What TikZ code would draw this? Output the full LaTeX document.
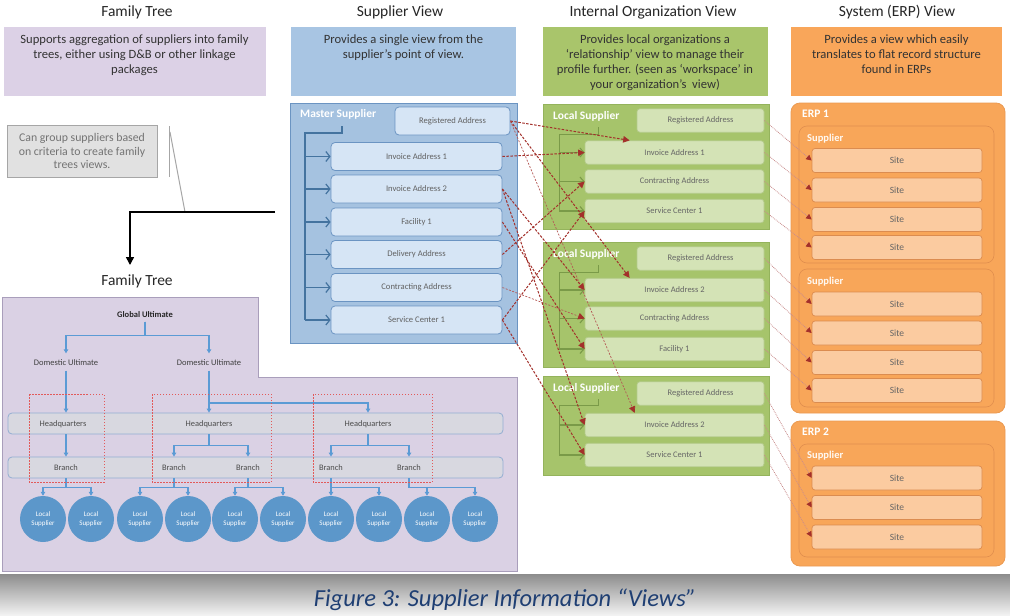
\documentclass[tikz,border=0pt]{standalone}
\usepackage{fontspec}
\setmainfont{Carlito}
\usetikzlibrary{arrows.meta}
\definecolor{purpD}{HTML}{DCD1E6}
\definecolor{purpA}{HTML}{DAD1E4}
\definecolor{purpB}{HTML}{A99EBB}
\definecolor{blueD}{HTML}{A8C5E3}
\definecolor{msFill}{HTML}{A5C2E0}
\definecolor{msLine}{HTML}{6B94C2}
\definecolor{msIn}{HTML}{D6E5F5}
\definecolor{msTree}{HTML}{44739F}
\definecolor{greenD}{HTML}{A9C56B}
\definecolor{lsFill}{HTML}{A6C46B}
\definecolor{lsLine}{HTML}{94B35C}
\definecolor{lsIn}{HTML}{D4E3B6}
\definecolor{lsInLine}{HTML}{B4CB8B}
\definecolor{lsTree}{HTML}{7A9A48}
\definecolor{orangeD}{HTML}{F9A65A}
\definecolor{erpFill}{HTML}{F8A659}
\definecolor{erpLine}{HTML}{EB9A52}
\definecolor{grpLine}{HTML}{E08E4E}
\definecolor{siteFill}{HTML}{FBCBA0}
\definecolor{siteLine}{HTML}{DB8C50}
\definecolor{noteFill}{HTML}{E1E1E1}
\definecolor{noteLine}{HTML}{A6A6A6}
\definecolor{treeBlue}{HTML}{5B9BD5}
\definecolor{circFill}{HTML}{5C97CA}
\definecolor{barFill}{HTML}{D8D8E0}
\definecolor{barLine}{HTML}{93AED2}
\definecolor{redBox}{HTML}{E25A5A}
\definecolor{conRed}{HTML}{A3302B}
\definecolor{erpCon}{HTML}{C98C8C}
\definecolor{capBlue}{HTML}{1F3F73}
\tikzset{
 ttl/.style={font=\fontsize{15.5}{18}\selectfont, text=black!85, inner sep=0pt},
 descbox/.style={draw=none, minimum width=#1, minimum height=69pt, inner sep=0pt},
 desctext/.style={font=\fontsize{12.6}{15}\selectfont, align=center, text=black!80, anchor=north, inner sep=0pt},
 hdr/.style={font=\bfseries\fontsize{11.5}{13}\selectfont, text=white, anchor=west, inner sep=0pt},
 hdrs/.style={font=\bfseries\fontsize{10.5}{12}\selectfont, text=white!95!orange, anchor=west, inner sep=0pt},
 mframe/.style={draw=msLine, fill=msFill, line width=0.8pt, minimum width=227pt, minimum height=240pt, inner sep=0pt},
 sbox/.style={draw=msLine, fill=msIn, line width=0.8pt, rounded corners=4pt, minimum width=171pt, minimum height=28pt, inner sep=0pt, font=\fontsize{8.6}{10}\selectfont, text=black!62},
 lsframe/.style={draw=lsLine, fill=lsFill, line width=0.8pt, minimum width=226pt, inner sep=0pt},
 lsbox/.style={draw=lsInLine, fill=lsIn, line width=0.7pt, rounded corners=3pt, minimum width=179pt, minimum height=23.5pt, inner sep=0pt, font=\fontsize{8.5}{10}\selectfont, text=black!60},
 erpframe/.style={draw=erpLine, fill=erpFill, line width=0.8pt, rounded corners=9pt, minimum width=214pt, inner sep=0pt},
 grp/.style={draw=grpLine, fill=erpFill, line width=0.6pt, rounded corners=8pt, minimum width=195pt, inner sep=0pt},
 site/.style={draw=siteLine, fill=siteFill, line width=0.7pt, rounded corners=3pt, minimum width=170pt, minimum height=24pt, inner sep=0pt, font=\fontsize{9.5}{11}\selectfont, text=black!60},
 tlabel/.style={font=\fontsize{8.5}{10}\selectfont, text=black!75, inner sep=1.5pt},
 bar/.style={draw=barLine, fill=barFill, line width=0.8pt, rounded corners=4pt, minimum width=495pt, minimum height=21pt, inner sep=0pt},
 blabel/.style={font=\fontsize{8.4}{10}\selectfont, text=black!70, inner sep=1pt},
 lsc/.style={circle, fill=circFill, minimum size=46pt, inner sep=0pt, font=\fontsize{7}{8.3}\selectfont, text=white, align=center},
 tarr/.style={draw=treeBlue, line width=1.1pt, -{Triangle[width=4.5pt,length=4pt]}},
 redrect/.style={draw=redBox, line width=0.7pt, dash pattern=on 1.5pt off 1.5pt},
 marr/.style={draw=msTree, line width=1.2pt, -{Straight Barb[length=4pt,width=10pt]}},
 garr/.style={draw=lsTree, line width=1.1pt, -{Straight Barb[length=4pt,width=9pt]}},
 rcon/.style={draw=conRed, line width=1pt, dash pattern=on 2.5pt off 1.5pt, -{Triangle[width=6.5pt,length=6.5pt]}},
 rconl/.style={draw=conRed!80, line width=0.7pt, dash pattern=on 2pt off 1.5pt, -{Triangle[width=6.5pt,length=6.5pt,color=conRed]}},
 econ/.style={draw=erpCon, line width=0.8pt, densely dotted, -{Triangle[width=5.5pt,length=5.5pt,color=conRed]}}
}
\begin{document}
\begin{tikzpicture}[x=1pt,y=-1pt]
\useasboundingbox (0,0) rectangle (1010,616);
\fill[white] (0,0) rectangle (1010,616);

% ---------- titles
\node[ttl] (t1) at (137,12) {Family Tree};
\node[ttl] (t2) at (400,12) {Supplier View};
\node[ttl] (t3) at (653,12) {Internal Organization View};
\node[ttl] (t4) at (897,12) {System (ERP) View};

% ---------- description boxes
\node[descbox=262pt, fill=purpD] (d1) at (134.5,61) {};
\node[desctext] (d1t) at (134.5,35) {Supports aggregation of suppliers into family\\trees, either using D\&B or other linkage\\packages};
\node[descbox=225pt, fill=blueD] (d2) at (403.5,61) {};
\node[desctext] (d2t) at (403.5,35) {Provides a single view from the\\supplier’s point of view.};
\node[descbox=225pt, fill=greenD] (d3) at (655,61) {};
\node[desctext] (d3t) at (655,35) {Provides local organizations a\\‘relationship’ view to manage their\\profile further. (seen as ‘workspace’ in\\your organization’s\ \ view)};
\node[descbox=211pt, fill=orangeD] (d4) at (896.5,61) {};
\node[desctext] (d4t) at (896.5,35) {Provides a view which easily\\translates to flat record structure\\found in ERPs};

% ---------- note and callout
\node[draw=noteLine, fill=noteFill, line width=0.8pt, minimum width=150pt, minimum height=52pt, font=\fontsize{11.8}{13.8}\selectfont, text=black!55, align=center, inner sep=0pt] (note) at (82,151) {Can group suppliers based\\on criteria to create family\\trees views.};
\draw[noteLine, line width=1pt] (169,126) -- (169,177);
\draw[noteLine, line width=1pt] (170,132) -- (185,212);

% ---------- family tree label and arrow
\node[ttl] (ftl) at (137,281) {Family Tree};
\coordinate (bE) at (275,212);
\draw[black, line width=1.6pt, -{Triangle[width=8pt,length=8pt]}] (bE) -| (130,265);

% ---------- family tree area
\draw[fill=purpA, draw=purpB, line width=0.8pt] (2,297) -- (258,297) -- (258,377) -- (517,377) -- (517,571) -- (2,571) -- cycle;

\node[tlabel, font=\bfseries\fontsize{8.5}{10}\selectfont, text=black!85] (gu) at (145,315) {Global Ultimate};
\node[tlabel] (du1) at (66,363) {Domestic Ultimate};
\node[tlabel] (du2) at (209,363) {Domestic Ultimate};
\node[bar] (hqbar) at (255.5,423.5) {};
\node[bar] (brbar) at (255.5,467.5) {};
\node[blabel] (hq1) at (63,424) {Headquarters};
\node[blabel] (hq2) at (209,424) {Headquarters};
\node[blabel] (hq3) at (368,424) {Headquarters};
\node[blabel] (br1) at (66,468) {Branch};
\node[blabel] (br2) at (174,468) {Branch};
\node[blabel] (br3) at (248,468) {Branch};
\node[blabel] (br4) at (331,468) {Branch};
\node[blabel] (br5) at (409,468) {Branch};

\foreach \i/\x in {1/43,2/91,3/140,4/188,5/235,6/283,7/331,8/379,9/427,10/475}
  \node[lsc] (c\i) at (\x,519) {Local\\Supplier};

\draw[tarr] ([yshift=-2pt]gu.south) -- ++(0,14) -| ([yshift=5pt]du1.north);
\draw[tarr] ([yshift=-2pt]gu.south) -- ++(0,14) -| ([yshift=5pt]du2.north);
\draw[tarr] ([yshift=-3pt]du1.south) -- (du1 |- hqbar.north);
\draw[tarr] (hqbar.south -| du1) -- (brbar.north -| du1);
\draw[tarr] ([yshift=-3pt]du2.south) -- (du2 |- hqbar.north);
\draw[tarr] (du2 |- 0,403) -| (hq3 |- hqbar.north);
\draw[tarr] (hqbar.south -| hq2) -- ++(0,11) -| (brbar.north -| br2);
\draw[tarr] (hqbar.south -| hq2) -- ++(0,11) -| (brbar.north -| br3);
\draw[tarr] (hqbar.south -| hq3) -- ++(0,11) -| (brbar.north -| br4);
\draw[tarr] (hqbar.south -| hq3) -- ++(0,11) -| (brbar.north -| br5);
\draw[tarr] (brbar.south -| br1) -- ++(0,9) -| (c1.north);
\draw[tarr] (brbar.south -| br1) -- ++(0,9) -| (c2.north);
\draw[tarr] (brbar.south -| br2) -- ++(0,9) -| (c3.north);
\draw[tarr] (brbar.south -| br2) -- ++(0,9) -| (c4.north);
\draw[tarr] (brbar.south -| br3) -- ++(0,9) -| (c5.north);
\draw[tarr] (brbar.south -| br3) -- ++(0,9) -| (c6.north);
\draw[tarr] (brbar.south -| br4) -- (c7.north);
\draw[tarr] (brbar.south -| br4) -- ++(0,9) -| (c8.north);
\draw[tarr] (brbar.south -| br5) -- ++(0,9) -| (c9.north);
\draw[tarr] (brbar.south -| br5) -- ++(0,9) -| (c10.north);

\draw[redrect] (29,394) rectangle (104,482);
\draw[redrect] (152,394) rectangle (271,482);
\draw[redrect] (313,394) rectangle (432,482);

% ---------- master supplier
\node[mframe] (ms) at (403.5,223) {};
\node[hdr] (msl) at (300,114) {Master Supplier};
\node[sbox, minimum width=115pt] (mreg) at (452.5,121) {Registered Address};
\node[sbox] (mia1) at (416.5,156.5) {Invoice Address 1};
\node[sbox] (mia2) at (416.5,189) {Invoice Address 2};
\node[sbox] (mfac) at (416.5,222) {Facility 1};
\node[sbox] (mdel) at (416.5,254.5) {Delivery Address};
\node[sbox] (mcon) at (416.5,287.5) {Contracting Address};
\node[sbox] (msc) at (416.5,320) {Service Center 1};
\coordinate (mtr) at (305,133);
\draw[msTree, line width=1.3pt] (342,126) -- (342,133) -- (mtr) -- (mtr |- msc.west);
\foreach \b in {mia1,mia2,mfac,mdel,mcon,msc}
  \draw[marr] (mtr |- \b.west) -- (\b.west);

% ---------- local suppliers
\node[lsframe, minimum height=125pt] (ls1) at (656,166.5) {};
\node[hdr] (ls1l) at (553,116) {Local Supplier};
\node[lsbox, minimum width=127pt] (lreg1) at (700.5,120.5) {Registered Address};
\node[lsbox] (lia1) at (674.5,152.5) {Invoice Address 1};
\node[lsbox] (lcon1) at (674.5,181.5) {Contracting Address};
\node[lsbox] (lsc1) at (674.5,211) {Service Center 1};
\coordinate (g1t) at (559,134);
\draw[lsTree, line width=1pt] (598,127) -- (598,134) -- (g1t) -- (g1t |- lsc1.west);
\foreach \b in {lia1,lcon1,lsc1}
  \draw[garr] (g1t |- \b.west) -- (\b.west);

\node[lsframe, minimum height=125pt] (ls2) at (656,304.5) {};
\node[hdr] (ls2l) at (553,254) {Local Supplier};
\node[lsbox, minimum width=127pt] (lreg2) at (700.5,258.5) {Registered Address};
\node[lsbox] (lia2) at (674.5,290) {Invoice Address 2};
\node[lsbox] (lcon2) at (674.5,318.5) {Contracting Address};
\node[lsbox] (lfac2) at (674.5,349) {Facility 1};
\coordinate (g2t) at (559,272);
\draw[lsTree, line width=1pt] (598,265) -- (598,272) -- (g2t) -- (g2t |- lfac2.west);
\foreach \b in {lia2,lcon2,lfac2}
  \draw[garr] (g2t |- \b.west) -- (\b.west);

\node[lsframe, minimum height=99pt] (ls3) at (656,425.5) {};
\node[hdr] (ls3l) at (553,388) {Local Supplier};
\node[lsbox, minimum width=127pt] (lreg3) at (700.5,393.5) {Registered Address};
\node[lsbox] (lia3) at (674.5,425) {Invoice Address 2};
\node[lsbox] (lsc3) at (674.5,455) {Service Center 1};
\coordinate (g3t) at (559,405);
\draw[lsTree, line width=1pt] (598,399) -- (598,405) -- (g3t) -- (g3t |- lsc3.west);
\foreach \b in {lia3,lsc3}
  \draw[garr] (g3t |- \b.west) -- (\b.west);

% ---------- ERP
\node[erpframe, minimum height=310pt] (erp1) at (898,258) {};
\node[hdr] (erp1l) at (802,114) {ERP 1};
\node[grp, minimum height=137pt] (gr1) at (896.5,194.5) {};
\node[hdrs] (gr1l) at (807,139) {Supplier};
\node[site] (s1) at (897,160.5) {Site};
\node[site] (s2) at (897,190) {Site};
\node[site] (s3) at (897,219.5) {Site};
\node[site] (s4) at (897,247.5) {Site};
\node[grp, minimum height=138pt] (gr2) at (896.5,338) {};
\node[hdrs] (gr2l) at (807,282) {Supplier};
\node[site] (s5) at (897,304) {Site};
\node[site] (s6) at (897,333) {Site};
\node[site] (s7) at (897,362.5) {Site};
\node[site] (s8) at (897,390.5) {Site};

\node[erpframe, minimum height=145pt] (erp2) at (898,493.5) {};
\node[hdr] (erp2l) at (802,432) {ERP 2};
\node[grp, minimum height=113pt] (gr3) at (896.5,500.5) {};
\node[hdrs] (gr3l) at (807,456) {Supplier};
\node[site] (s9) at (897,478) {Site};
\node[site] (s10) at (897,507.5) {Site};
\node[site] (s11) at (897,537) {Site};

% ---------- connectors local -> ERP
\draw[econ] (lreg1.east) -- (s1.west);
\draw[econ] (lia1.east) -- (s2.west);
\draw[econ] (lcon1.east) -- (s3.west);
\draw[econ] (lsc1.east) -- (s4.west);
\draw[econ] (lreg2.east) -- (s5.west);
\draw[econ] (lia2.east) -- (s6.west);
\draw[econ] (lcon2.east) -- (s7.west);
\draw[econ] (lfac2.east) -- (s8.west);
\draw[econ] (lreg3.east) -- (s9.west);
\draw[econ] (lia3.east) -- (s10.west);
\draw[econ] (lsc3.east) -- (s11.west);

% ---------- connectors master -> local
\draw[rcon] (mreg.east) -- ([xshift=45pt]lia1.north west);
\draw[rcon] (mreg.east) -- ([xshift=45pt]lia2.north west);
\draw[rconl] (mreg.east) -- ([xshift=50pt]lia3.north west);
\draw[rcon] (mia1.east) -- (lia1.west);
\draw[rcon] (mia2.east) -- (lia2.west);
\draw[rcon] (mia2.east) -- (lia3.west);
\draw[rcon] (mfac.east) -- (lfac2.west);
\draw[rcon] (mdel.east) -- (lcon1.west);
\draw[rconl] (mcon.east) -- (lcon2.west);
\draw[rcon] (msc.east) -- (lsc1.west);
\draw[rcon] (msc.east) -- (lsc3.west);

% ---------- caption band
\shade[top color=black!45, bottom color=black!4] (0,574) rectangle (1010,616);
\node[font=\itshape\fontsize{24.5}{28}\selectfont, text=capBlue, inner sep=0pt] (cap) at (505,600) {Figure 3: Supplier Information “Views”};
\end{tikzpicture}
\end{document}
